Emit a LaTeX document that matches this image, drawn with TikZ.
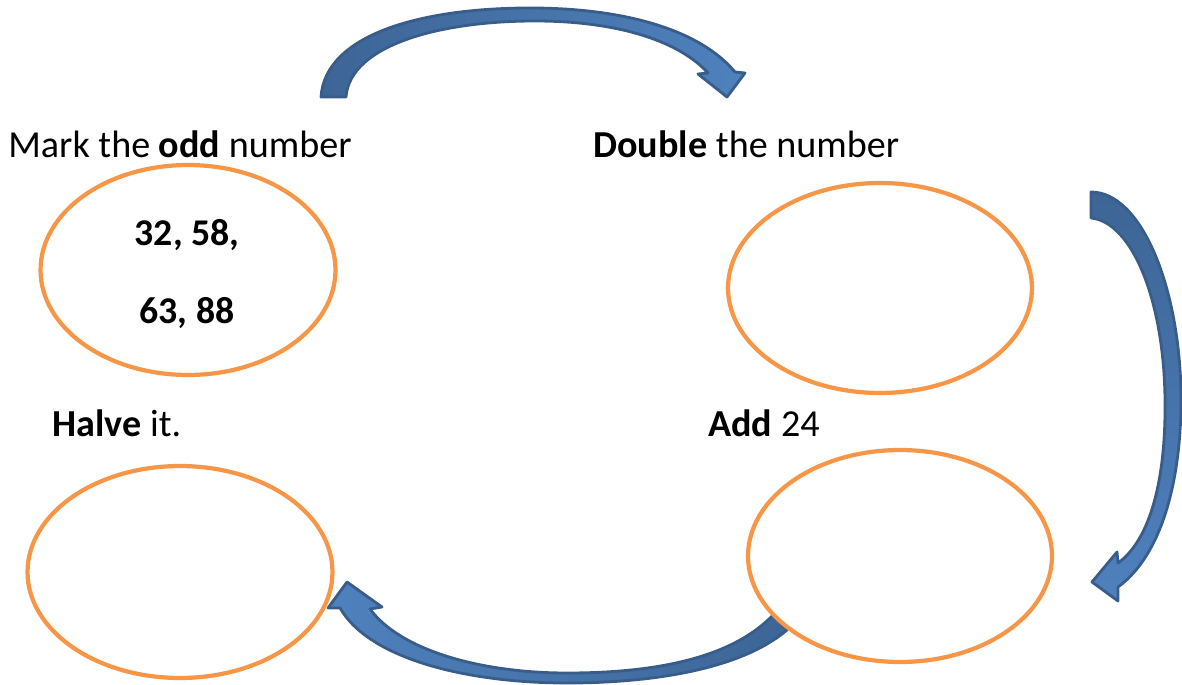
\documentclass[tikz,border=0pt]{standalone}
\usepackage{fontspec}
\setmainfont{Carlito}
\usetikzlibrary{shapes.geometric}
\definecolor{ringorange}{HTML}{F79646}
\definecolor{arrowfill}{HTML}{4F81BD}
\definecolor{arrowdeep}{HTML}{3D6596}
\definecolor{arrowline}{HTML}{385D8A}
\begin{document}
\begin{tikzpicture}[
        x = 0.02cm,
        y = -0.02cm,
        ring/.style = {draw=ringorange, line width=2.4pt, ellipse, inner sep=0pt},
        bend arrow/.style = {draw=arrowline, line width=1.6pt, line join=round},
        steptext/.style = {anchor=base west, inner sep=0pt, font=\fontsize{21.7}{26}\selectfont},
        numtext/.style = {anchor=base, inner sep=0pt, font=\fontsize{21.5}{26}\selectfont\bfseries}]
      \useasboundingbox (0, 0) rectangle (1182, 685);
      % curved arrows
      \path [bend arrow, left color=arrowdeep, right color=arrowfill]
        (321, 97) -- (346, 97)
        .. controls (350, 45) and (440, 21) .. (535, 21)
        .. controls (620, 21) and (680, 42) .. (708, 73)
        -- (698, 74) -- (727, 97) -- (745, 73) -- (735, 72)
        .. controls (700, 30) and (625, 8) .. (530, 8)
        .. controls (420, 8) and (325, 35) .. (321, 97) -- cycle;
      \path [bend arrow, top color=arrowdeep, bottom color=arrowfill]
        (1091, 192) -- (1091, 218)
        .. controls (1132, 222) and (1164, 300) .. (1165, 400)
        .. controls (1166, 480) and (1150, 540) .. (1118, 563)
        -- (1117, 552) -- (1092, 582) -- (1118, 601) -- (1118, 587)
        .. controls (1162, 555) and (1181, 480) .. (1181, 400)
        .. controls (1181, 290) and (1142, 192) .. (1091, 192) -- cycle;
      \path [bend arrow, right color=arrowdeep, left color=arrowfill]
        (773, 615) -- (787, 630)
        .. controls (740, 670) and (650, 683) .. (567, 683)
        .. controls (470, 683) and (370, 660) .. (340, 608)
        -- (328, 608) -- (347, 582) -- (382, 607) -- (370, 609)
        .. controls (400, 650) and (480, 673) .. (567, 673)
        .. controls (650, 673) and (730, 660) .. (773, 615) -- cycle;
      % rings
      \node [ring, minimum width=5.9cm, minimum height=4.2cm] (oddring) at (188, 270) {};
      \node [ring, minimum width=6.08cm, minimum height=4.2cm] (doublering) at (880, 288) {};
      \node [ring, minimum width=6.1cm, minimum height=4.24cm] (halvering) at (180, 572) {};
      \node [ring, minimum width=6.08cm, minimum height=4.24cm] (addring) at (900, 556) {};
      % texts
      \node [steptext] (marktext) at (8, 158) {Mark the \textbf{odd} number};
      \node [steptext] (doubletext) at (593, 158) {\textbf{Double} the number};
      \node [steptext] (halvetext) at (52, 437) {\textbf{Halve} it.};
      \node [steptext] (addtext) at (708, 437) {\textbf{Add} 24};
      \node [numtext] (toplist) at (187, 246) {32, 58,};
      \node [numtext] (bottomlist) at (187, 324) {63, 88};
    \end{tikzpicture}
\end{document}
